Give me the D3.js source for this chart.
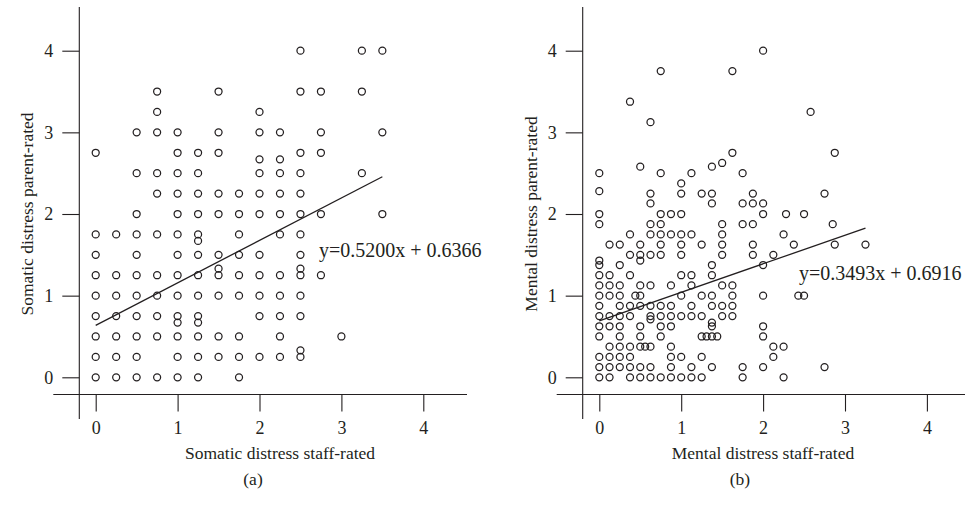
<!DOCTYPE html>
<html>
<head>
<meta charset="utf-8">
<script src="https://cdn.jsdelivr.net/npm/d3@7"></script>
<style>
  body { margin: 0; background: #fff; }
  svg text { font-family: "Liberation Serif", "DejaVu Serif", serif; fill: #231f20; }
</style>
</head>
<body>
<div id="view"></div>
<script>
// tick values shared by both panels
var tickValues = [0, 1, 2, 3, 4];

// (a) somatic distress: staff-rated (x), parent-rated (y)
var somaticStaff = [
  2.5, 3.25, 3.5,
  0.75, 1.5, 2.5, 2.75, 3.25,
  0.75, 2.0,
  0.5, 0.75, 1.0, 1.5, 2.0, 2.25, 2.75, 3.5,
  0, 1.0, 1.25, 1.5, 2.5, 2.75,
  2.0, 2.25,
  0.5, 0.75, 1.0, 1.25, 2.0, 2.25, 2.5, 3.25,
  0.75, 1.0, 1.25, 1.5, 1.75, 2.0, 2.25, 2.5,
  0.5, 1.0, 1.25, 1.5, 1.75, 2.0, 2.25, 2.5, 2.75, 3.5,
  0, 0.25, 0.5, 0.75, 1.0, 1.25, 1.75, 2.25, 2.5,
  1.25,
  0, 0.5, 1.0, 1.25, 1.5, 1.75, 2.0, 2.5,
  1.5, 2.5,
  0, 0.25, 0.5, 0.75, 1.0, 1.25, 1.5, 1.75, 2.0, 2.25, 2.5, 2.75,
  0, 0.25, 0.5, 0.75, 1.0, 1.25, 1.5, 1.75, 2.0, 2.25, 2.5,
  0, 0.25, 0.5, 0.75, 1.0, 1.25, 2.0, 2.25, 2.5,
  1.0, 1.25,
  0, 0.25, 0.5, 0.75, 1.0, 1.25, 1.5, 1.75, 2.25, 3.0,
  2.5,
  0, 0.25, 0.5, 1.0, 1.25, 1.5, 1.75, 2.0, 2.25, 2.5,
  0, 0.25, 0.5, 0.75, 1.0, 1.25, 1.75
];
var somaticParent = [
  4, 4, 4,
  3.5, 3.5, 3.5, 3.5, 3.5,
  3.25, 3.25,
  3, 3, 3, 3, 3, 3, 3, 3,
  2.75, 2.75, 2.75, 2.75, 2.75, 2.75,
  2.67, 2.67,
  2.5, 2.5, 2.5, 2.5, 2.5, 2.5, 2.5, 2.5,
  2.25, 2.25, 2.25, 2.25, 2.25, 2.25, 2.25, 2.25,
  2, 2, 2, 2, 2, 2, 2, 2, 2, 2,
  1.75, 1.75, 1.75, 1.75, 1.75, 1.75, 1.75, 1.75, 1.75,
  1.67,
  1.5, 1.5, 1.5, 1.5, 1.5, 1.5, 1.5, 1.5,
  1.33, 1.33,
  1.25, 1.25, 1.25, 1.25, 1.25, 1.25, 1.25, 1.25, 1.25, 1.25, 1.25, 1.25,
  1, 1, 1, 1, 1, 1, 1, 1, 1, 1, 1,
  0.75, 0.75, 0.75, 0.75, 0.75, 0.75, 0.75, 0.75, 0.75,
  0.67, 0.67,
  0.5, 0.5, 0.5, 0.5, 0.5, 0.5, 0.5, 0.5, 0.5, 0.5,
  0.33,
  0.25, 0.25, 0.25, 0.25, 0.25, 0.25, 0.25, 0.25, 0.25, 0.25,
  0, 0, 0, 0, 0, 0, 0
];

// (b) mental distress: staff-rated (x), parent-rated (y)
var mentalStaff = [
  2.0, 0.75, 1.625, 0.375, 0.625, 2.58, 1.625, 2.875, 1.5, 1.375, 0.5,
  0, 0.75, 1.125, 1.75, 1.0, 0,
  0.625, 1.0, 1.25, 1.375, 1.875, 2.75,
  0.625, 1.375, 1.75, 1.875, 2.0,
  0, 0.75, 0.875, 1.0, 2.0, 2.28, 2.5,
  0, 0.625, 0.75, 1.5, 1.75, 1.875, 2.85,
  0.375, 0.625, 0.75, 0.875, 1.0, 1.125, 1.5, 2.25,
  0.125, 0.25, 0.5, 0.75, 1.0, 1.25, 1.5, 1.875, 2.375, 2.875, 3.25,
  0.375, 0.5, 0.625, 0.75, 1.0, 1.5, 1.875, 2.125,
  0, 0.5,
  0, 0.25, 1.375, 2.0,
  0, 0.125, 0.375, 1.0, 1.125, 1.375,
  0, 0.125, 0.25, 0.5, 0.625, 0.875, 1.125, 1.5, 1.625,
  0, 0.125, 0.25, 0.44, 0.5, 1.0, 1.25, 1.375, 1.625, 2.0, 2.43, 2.5,
  0, 0.25, 0.375, 0.5, 0.625, 0.75, 0.875, 1.125, 1.375, 1.5, 1.625,
  0, 0.125, 0.25, 0.375, 0.625, 0.75, 0.875, 1.0, 1.125, 1.25, 1.5, 1.625,
  0.625, 1.375,
  0, 0.125, 0.25, 0.5, 0.75, 0.875, 1.375, 2.0,
  0, 0.25, 0.5, 0.75, 1.25, 1.31, 1.375, 1.44, 2.0,
  0.125, 0.25, 0.375, 0.5, 0.56, 0.625, 0.875, 2.125, 2.25,
  0, 0.125, 0.25, 0.375, 0.875, 1.0, 1.25, 2.125,
  0, 0.125, 0.25, 0.375, 0.5, 0.625, 0.875, 1.125, 1.375, 1.75, 2.0, 2.75,
  0, 0.125, 0.375, 0.5, 0.625, 0.75, 0.875, 1.0, 1.125, 1.25, 1.75, 2.25
];
var mentalParent = [
  4, 3.75, 3.75, 3.375, 3.125, 3.25, 2.75, 2.75, 2.625, 2.58, 2.58,
  2.5, 2.5, 2.5, 2.5, 2.375, 2.28,
  2.25, 2.25, 2.25, 2.25, 2.25, 2.25,
  2.13, 2.13, 2.13, 2.13, 2.13,
  2, 2, 2, 2, 2, 2, 2,
  1.875, 1.875, 1.875, 1.875, 1.875, 1.875, 1.875,
  1.75, 1.75, 1.75, 1.75, 1.75, 1.75, 1.75, 1.75,
  1.625, 1.625, 1.625, 1.625, 1.625, 1.625, 1.625, 1.625, 1.625, 1.625, 1.625,
  1.5, 1.5, 1.5, 1.5, 1.5, 1.5, 1.5, 1.5,
  1.43, 1.43,
  1.375, 1.375, 1.375, 1.375,
  1.25, 1.25, 1.25, 1.25, 1.25, 1.25,
  1.125, 1.125, 1.125, 1.125, 1.125, 1.125, 1.125, 1.125, 1.125,
  1, 1, 1, 1, 1, 1, 1, 1, 1, 1, 1, 1,
  0.875, 0.875, 0.875, 0.875, 0.875, 0.875, 0.875, 0.875, 0.875, 0.875, 0.875,
  0.75, 0.75, 0.75, 0.75, 0.75, 0.75, 0.75, 0.75, 0.75, 0.75, 0.75, 0.75,
  0.71, 0.67,
  0.625, 0.625, 0.625, 0.625, 0.625, 0.625, 0.625, 0.625,
  0.5, 0.5, 0.5, 0.5, 0.5, 0.5, 0.5, 0.5, 0.5,
  0.375, 0.375, 0.375, 0.375, 0.375, 0.375, 0.375, 0.375, 0.375,
  0.25, 0.25, 0.25, 0.25, 0.25, 0.25, 0.25, 0.25,
  0.125, 0.125, 0.125, 0.125, 0.125, 0.125, 0.125, 0.125, 0.125, 0.125, 0.125, 0.125,
  0, 0, 0, 0, 0, 0, 0, 0, 0, 0, 0, 0
];

// fitted lines: slope, intercept, x range
var fitA = {slope: 0.5200, intercept: 0.6366, from: 0, to: 3.5};
var fitB = {slope: 0.3493, intercept: 0.6916, from: 0, to: 3.25};

var width = 965, height = 513;

var svg = d3.select("#view")
    .append("svg")
    .attr("width", width)
    .attr("height", height);

var y = d3.scaleLinear().domain([0, 4]).range([377.3, 50.7]);

function panel(opt) {
    var x = d3.scaleLinear().domain([0, 4]).range([opt.x0, opt.x0 + 327.6]);
    var g = svg.append("g");

    // axis lines
    g.append("line")
        .attr("x1", opt.yAxisX).attr("x2", opt.yAxisX)
        .attr("y1", 7).attr("y2", 419)
        .attr("stroke", "#231f20").attr("stroke-width", 1.1);
    g.append("line")
        .attr("x1", opt.yAxisX - 26).attr("x2", opt.xAxisEnd)
        .attr("y1", 394.5).attr("y2", 394.5)
        .attr("stroke", "#231f20").attr("stroke-width", 1.1);

    var xa = g.append("g")
        .attr("transform", "translate(0,394.5)")
        .call(d3.axisBottom(x).tickValues(tickValues).tickFormat(d3.format("d"))
            .tickSize(17).tickPadding(10));
    xa.select(".domain").remove();

    var ya = g.append("g")
        .attr("transform", "translate(" + opt.yAxisX + ",0)")
        .call(d3.axisLeft(y).tickValues(tickValues).tickFormat(d3.format("d"))
            .tickSize(17).tickPadding(9));
    ya.select(".domain").remove();

    g.selectAll(".tick line").attr("stroke", "#231f20").attr("stroke-width", 1.1);
    g.selectAll(".tick text")
        .attr("font-family", "Liberation Serif, serif")
        .attr("font-size", 18)
        .attr("fill", "#231f20");

    // points
    g.append("g").selectAll("circle")
        .data(opt.xs.map(function(d, i) { return [d, opt.ys[i]]; }))
        .enter().append("circle")
        .attr("cx", function(d) { return x(d[0]); })
        .attr("cy", function(d) { return y(d[1]); })
        .attr("r", 3.5)
        .attr("fill", "none")
        .attr("stroke", "#231f20")
        .attr("stroke-width", 1.25);

    // regression line
    var f = opt.fit;
    g.append("line")
        .attr("x1", x(f.from)).attr("y1", y(f.intercept + f.slope * f.from))
        .attr("x2", x(f.to)).attr("y2", y(f.intercept + f.slope * f.to))
        .attr("stroke", "#231f20")
        .attr("stroke-width", 1.3);

    g.append("text")
        .attr("x", opt.eqX).attr("y", opt.eqY)
        .attr("font-size", 20)
        .text("y=" + f.slope.toFixed(4) + "x + " + f.intercept.toFixed(4));

    // axis titles
    g.append("text")
        .attr("x", opt.titleX).attr("y", 459)
        .attr("text-anchor", "middle")
        .attr("font-size", 17.5)
        .text(opt.xTitle);

    g.append("text")
        .attr("transform", "translate(" + (opt.yAxisX - 46) + ",214) rotate(-90)")
        .attr("text-anchor", "middle")
        .attr("font-size", 17.5)
        .text(opt.yTitle);

    g.append("text")
        .attr("x", opt.capX).attr("y", 485)
        .attr("text-anchor", "middle")
        .attr("font-size", 17.5)
        .text(opt.caption);
}

panel({
    x0: 95.7, yAxisX: 79.3, xAxisEnd: 467,
    xs: somaticStaff, ys: somaticParent, fit: fitA,
    eqX: 319, eqY: 257,
    titleX: 280, xTitle: "Somatic distress staff-rated",
    yTitle: "Somatic distress parent-rated",
    capX: 253, caption: "(a)"
});

panel({
    x0: 599.3, yAxisX: 582.7, xAxisEnd: 965,
    xs: mentalStaff, ys: mentalParent, fit: fitB,
    eqX: 799, eqY: 280,
    titleX: 763, xTitle: "Mental distress staff-rated",
    yTitle: "Mental distress parent-rated",
    capX: 740, caption: "(b)"
});
</script>
</body>
</html>
